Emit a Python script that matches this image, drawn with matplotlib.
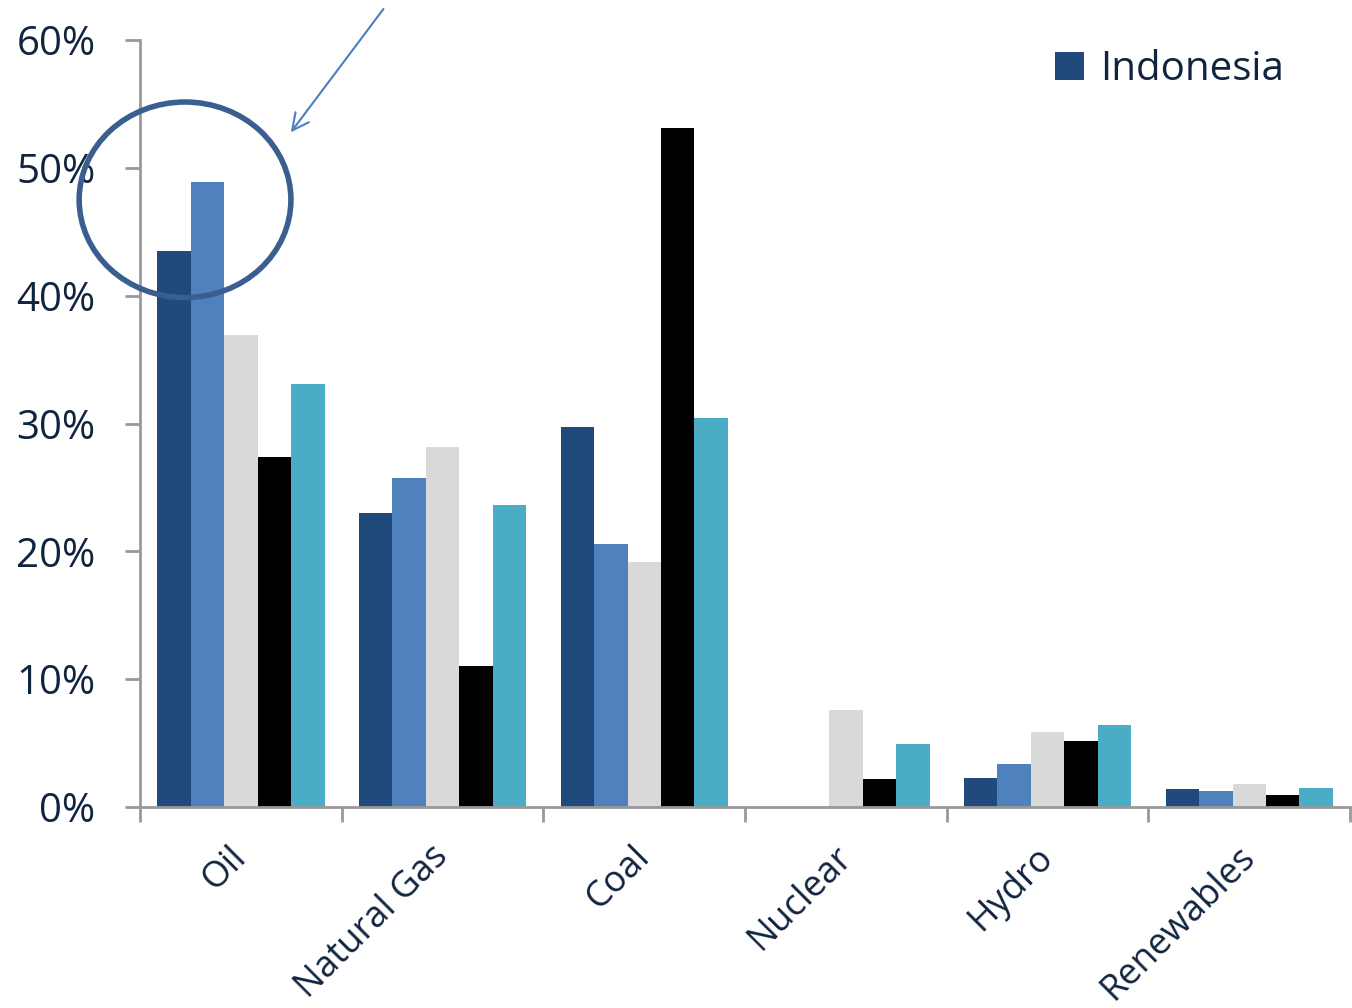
import matplotlib.pyplot as plt
import numpy as np
from matplotlib.patches import Ellipse
from matplotlib.transforms import ScaledTranslation

# primary energy mix, share of total (%)
categories = ['Oil', 'Natural Gas', 'Coal', 'Nuclear', 'Hydro', 'Renewables']
indonesia = [43.5, 23.0, 29.7, 0.0, 2.3, 1.4]
series_2 = [48.9, 25.7, 20.6, 0.0, 3.4, 1.25]
series_3 = [36.9, 28.2, 19.2, 7.6, 5.9, 1.8]
series_4 = [27.4, 11.0, 53.1, 2.2, 5.2, 0.9]
series_5 = [33.1, 23.6, 30.4, 4.9, 6.4, 1.5]

colors = ['#204a7c', '#4f81bd', '#d9d9d9', '#000000', '#4bacc6']
text_col = '#10243f'

plt.rcParams['font.family'] = ['Open Sans', 'DejaVu Sans']

fig = plt.figure(figsize=(13.52, 10.08), dpi=100)
ax = fig.add_axes([0.1036, 0.1994, 0.895, 0.7609])

x = np.arange(len(categories))
w = 0.166
all_series = [indonesia, series_2, series_3, series_4, series_5]
for k, vals in enumerate(all_series):
    ax.bar(x + (k - 2) * w, vals, width=w, color=colors[k],
           label='Indonesia' if k == 0 else None, zorder=2)

ax.set_xlim(-0.5, len(categories) - 0.5)
ax.set_ylim(0, 60)
ax.set_yticks(range(0, 61, 10))
ax.set_yticklabels([f'{v}%' for v in range(0, 61, 10)], fontsize=29, color=text_col)

ax.set_xticks(x)
ax.set_xticklabels(categories, fontsize=26, color=text_col, rotation=45,
                   ha='right', va='top', rotation_mode='anchor')
ax.set_xticks(np.arange(-0.5, len(categories)), minor=True)
ax.tick_params(axis='x', which='major', length=0, pad=23)
ax.tick_params(axis='x', which='minor', length=11, width=2, color='#999999')
ax.tick_params(axis='y', length=11, width=2, color='#999999', pad=21)

shift = ScaledTranslation(-12 / 100, 0, fig.dpi_scale_trans)
for lab in ax.get_xticklabels():
    lab.set_transform(lab.get_transform() + shift)

for s in ['top', 'right']:
    ax.spines[s].set_visible(False)
for s in ['left', 'bottom']:
    ax.spines[s].set_color('#999999')
    ax.spines[s].set_linewidth(2)

leg = ax.legend(loc='upper right', bbox_to_anchor=(0.975, 1.035), frameon=False,
                fontsize=29, handlelength=0.7, handleheight=0.7, handletextpad=0.4)
for t in leg.get_texts():
    t.set_color(text_col)

# highlight circle and arrow on the oil bars
ell = Ellipse((-0.277, 47.5), 1.05, 15.3, fill=False, edgecolor='#3a5f8f',
              linewidth=4, clip_on=False, zorder=3)
ax.add_patch(ell)
ax.annotate('', xy=(0.239, 52.6), xytext=(0.715, 62.6), annotation_clip=False,
            arrowprops=dict(arrowstyle='->', color='#4a7fc0', lw=1.5,
                            mutation_scale=30))

fig.savefig('out.png', dpi=100)
